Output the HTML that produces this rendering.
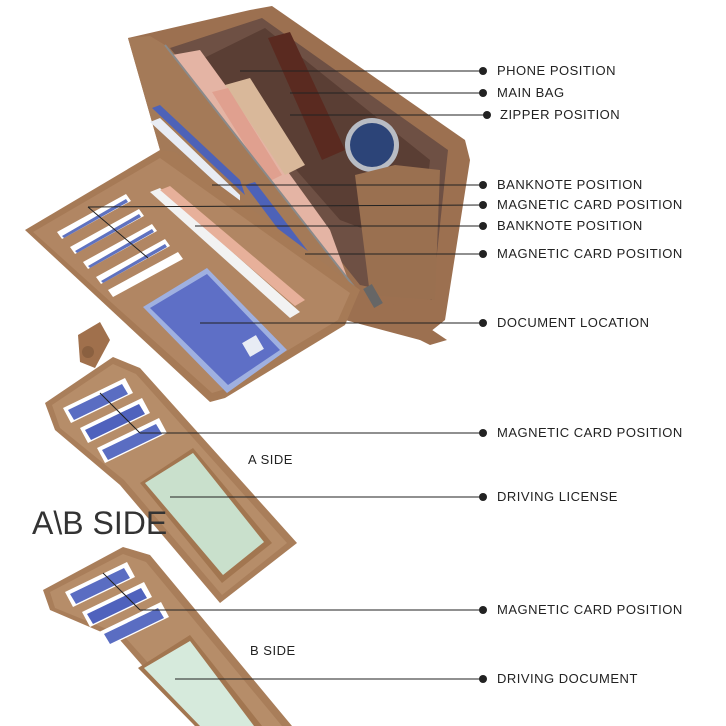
<!DOCTYPE html>
<html><head><meta charset="utf-8"><style>
html,body{margin:0;padding:0;background:#fff;}
#w{position:relative;width:726px;height:726px;overflow:hidden;font-family:"Liberation Sans",sans-serif;}
.l{position:absolute;font-size:13px;color:#222;letter-spacing:.5px;white-space:nowrap;}
</style></head><body><div id="w">
<svg width="726" height="726" style="position:absolute;left:0;top:0">
<!-- base body -->
<polygon points="128,38 250,10 272,6 465,140 470,160 445,320 420,340 345,320 160,150" fill="#9c7050"/>
<!-- interior -->
<polygon points="170,48 262,18 448,150 432,300 360,285" fill="#6e5044"/>
<polygon points="200,60 265,28 430,160 420,250 340,220" fill="#5a3e34"/>
<!-- phone -->
<polygon points="172,55 200,50 330,230 350,285 330,280" fill="#e4b4a4"/>
<!-- watch strap -->
<polygon points="268,38 290,32 345,150 322,160" fill="#5a2a20"/>
<polygon points="225,85 250,78 305,165 285,175" fill="#d9b89a"/>
<polygon points="212,92 228,88 282,175 268,182" fill="#e0a08f"/>
<circle cx="372" cy="145" r="27" fill="#b8bcc4"/>
<circle cx="372" cy="145" r="22" fill="#2c4478"/>
<!-- right inner flap -->
<polygon points="355,175 395,165 440,170 435,300 370,295" fill="#9a7050"/>
<!-- upright left panel -->
<polygon points="128,38 150,36 165,45 355,288 345,312 190,175 160,150" fill="#a47a58"/>
<line x1="165" y1="45" x2="355" y2="288" stroke="#8a8a8a" stroke-width="2"/>
<polygon points="152,108 160,105 240,180 245,195" fill="#4d62b8"/>
<polygon points="150,122 160,118 240,195 240,205" fill="#e8ecf4"/>
<polygon points="245,185 255,182 330,280 320,285" fill="#4d62b8"/>
<!-- front flap -->
<polygon points="25,230 160,150 175,152 360,290 345,325 225,398 210,402" fill="#a67a56"/>
<polygon points="33,232 160,158 350,293 338,320 222,390 212,393" fill="#b18663"/>
<!-- card slots -->
<g>
<polygon points="57,232 126,194 131,201 62,239" fill="#fff"/><polygon points="62,236 126,199 128,202 64,238" fill="#5f72c0"/>
<polygon points="70,247 139,209 144,216 75,254" fill="#fff"/><polygon points="75,251 139,214 141,217 77,253" fill="#5f72c0"/>
<polygon points="83,262 152,224 157,231 88,269" fill="#fff"/><polygon points="88,266 152,229 154,232 90,268" fill="#5f72c0"/>
<polygon points="96,277 165,239 170,246 101,284" fill="#fff"/><polygon points="101,281 165,244 167,247 103,283" fill="#5f72c0"/>
<polygon points="108,290 178,252 183,259 113,297" fill="#fff"/>
</g>
<!-- banknote strip -->
<polygon points="150,192 160,188 300,312 290,318" fill="#f2f2f2"/>
<polygon points="160,190 170,186 305,300 295,306" fill="#e7b09a"/>
<!-- document window -->
<polygon points="143,307 207,268 287,350 227,393" fill="#9fb0e0"/>
<polygon points="150,308 207,274 280,350 228,385" fill="#5e6fc6"/>
<rect x="245" y="338" width="16" height="16" fill="#e8ecf4" transform="rotate(-30 253 346)"/>
<!-- tab -->
<polygon points="78,335 100,322 110,340 95,368 80,362" fill="#a0704c"/>
<circle cx="88" cy="352" r="6" fill="#8a6040"/>
<!-- zipper pull -->
<polygon points="370,295 395,305 447,340 430,345 380,320" fill="#9c7050"/>
<rect x="368" y="285" width="10" height="22" fill="#666" transform="rotate(-30 373 296)"/>
<!-- card holder A -->
<polygon points="45,403 113,357 140,368 297,543 220,603 120,485 55,430" fill="#a97e5a"/>
<polygon points="52,405 113,364 136,374 287,543 222,595 124,480 60,428" fill="#b68d69"/>
<g>
<polygon points="63,408 125,378 133,393 71,423" fill="#fff"/><polygon points="68,410 122,384 128,394 74,420" fill="#5a6dc2"/>
<polygon points="80,428 142,398 150,413 88,443" fill="#fff"/><polygon points="85,430 139,404 145,414 91,440" fill="#4f62bd"/>
<polygon points="97,448 159,418 167,433 105,463" fill="#fff"/><polygon points="102,450 156,424 162,434 108,460" fill="#5a6dc2"/>
</g>
<polygon points="140,483 193,448 272,543 222,583" fill="#a27650"/>
<polygon points="145,483 193,453 264,542 223,575" fill="#c9e0cc"/>
<!-- card holder B -->
<polygon points="43,590 123,547 150,555 292,726 195,726 120,640 50,610" fill="#a97e5a"/>
<polygon points="50,592 123,554 146,562 282,726 205,726 124,636 55,608" fill="#b68d69"/>
<g>
<polygon points="65,592 127,562 135,577 73,607" fill="#fff"/><polygon points="70,594 124,568 130,578 76,604" fill="#5a6dc2"/>
<polygon points="82,612 144,582 152,597 90,627" fill="#fff"/><polygon points="87,614 141,588 147,598 93,624" fill="#4f62bd"/>
<polygon points="99,632 161,602 169,617 107,647" fill="#fff"/><polygon points="104,634 158,608 164,618 110,644" fill="#5a6dc2"/>
</g>
<polygon points="138,668 190,635 262,726 195,726" fill="#a27650"/>
<polygon points="144,668 190,641 254,726 200,726" fill="#d6eadc"/>
<!-- leader lines -->
<g stroke="#222" stroke-width="1">
<line x1="240" y1="71" x2="483" y2="71"/>
<line x1="290" y1="93" x2="483" y2="93"/>
<line x1="290" y1="115" x2="487" y2="115"/>
<line x1="212" y1="185" x2="483" y2="185"/>
<line x1="88" y1="207" x2="483" y2="205"/>
<line x1="88" y1="207" x2="148" y2="258"/>
<line x1="195" y1="226" x2="483" y2="226"/>
<line x1="305" y1="254" x2="483" y2="254"/>
<line x1="200" y1="323" x2="483" y2="323"/>
<line x1="100" y1="393" x2="140" y2="433"/>
<line x1="140" y1="433" x2="483" y2="433"/>
<line x1="170" y1="497" x2="483" y2="497"/>
<line x1="103" y1="573" x2="140" y2="610"/>
<line x1="140" y1="610" x2="483" y2="610"/>
<line x1="175" y1="679" x2="483" y2="679"/>
</g>
<g fill="#222">
<circle cx="483" cy="71" r="4"/><circle cx="483" cy="93" r="4"/><circle cx="487" cy="115" r="4"/>
<circle cx="483" cy="185" r="4"/><circle cx="483" cy="205" r="4"/><circle cx="483" cy="226" r="4"/>
<circle cx="483" cy="254" r="4"/><circle cx="483" cy="323" r="4"/><circle cx="483" cy="433" r="4"/>
<circle cx="483" cy="497" r="4"/><circle cx="483" cy="610" r="4"/><circle cx="483" cy="679" r="4"/>
</g>
</svg>
<div class="l" style="left:497px;top:63px">PHONE POSITION</div>
<div class="l" style="left:497px;top:85px">MAIN BAG</div>
<div class="l" style="left:500px;top:107px">ZIPPER POSITION</div>
<div class="l" style="left:497px;top:177px">BANKNOTE POSITION</div>
<div class="l" style="left:497px;top:197px">MAGNETIC CARD POSITION</div>
<div class="l" style="left:497px;top:218px">BANKNOTE POSITION</div>
<div class="l" style="left:497px;top:246px">MAGNETIC CARD POSITION</div>
<div class="l" style="left:497px;top:315px">DOCUMENT LOCATION</div>
<div class="l" style="left:497px;top:425px">MAGNETIC CARD POSITION</div>
<div class="l" style="left:248px;top:452px">A SIDE</div>
<div class="l" style="left:497px;top:489px">DRIVING LICENSE</div>
<div class="l" style="left:32px;top:505px;font-size:32px;color:#333;letter-spacing:0">A\B SIDE</div>
<div class="l" style="left:497px;top:602px">MAGNETIC CARD POSITION</div>
<div class="l" style="left:250px;top:643px">B SIDE</div>
<div class="l" style="left:497px;top:671px">DRIVING DOCUMENT</div>
</div></body></html>
